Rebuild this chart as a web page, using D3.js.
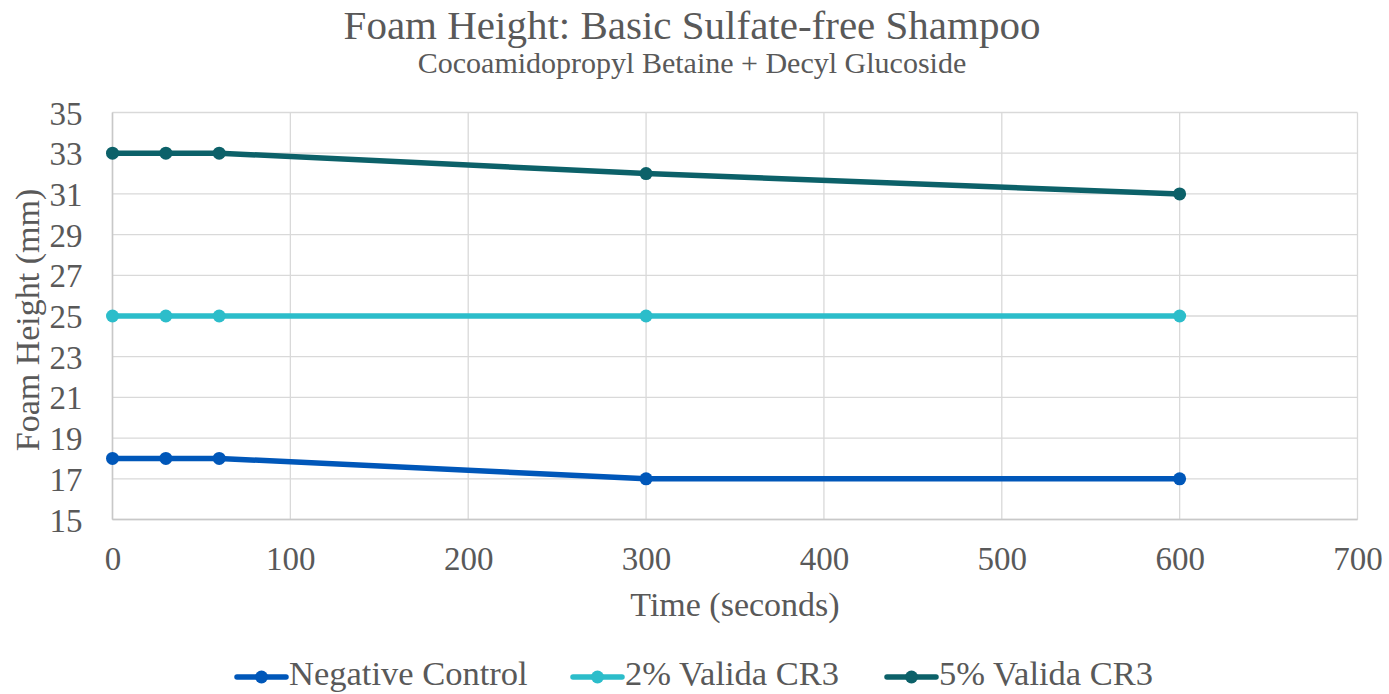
<!DOCTYPE html>
<html><head><meta charset="utf-8">
<script src="https://cdn.jsdelivr.net/npm/d3@7"></script>
<style>body{margin:0;background:#fff}svg{display:block}text{font-family:"Liberation Serif","DejaVu Serif",serif;fill:#595959}</style>
</head><body><svg id="c" width="1389" height="694"></svg>
<script>
const times = [0, 30, 60, 300, 600];
const seriesNames = ["Negative Control", "2% Valida CR3", "5% Valida CR3"];
const negativeControl = [18, 18, 18, 17, 17];
const valida2 = [25, 25, 25, 25, 25];
const valida5 = [33, 33, 33, 32, 31];
const seriesColors = ["#0057B9", "#2CBDCA", "#0C6169"];
const xTicks = [0, 100, 200, 300, 400, 500, 600, 700];
const yTicks = [15, 17, 19, 21, 23, 25, 27, 29, 31, 33, 35];
const titleText = "Foam Height: Basic Sulfate-free Shampoo";
const subtitleText = "Cocoamidopropyl Betaine + Decyl Glucoside";
const xTitle = "Time (seconds)";
const yTitle = "Foam Height (mm)";

const svg = d3.select("#c");
const L = 112.5, R = 1357.5, T = 112.5, B = 519.5;
const x = d3.scaleLinear().domain([0, 700]).range([L, R]);
const y = d3.scaleLinear().domain([15, 35]).range([B, T]);

// grid
svg.append("g").selectAll("line").data(yTicks).join("line")
  .attr("x1", L).attr("x2", R).attr("y1", d => y(d)).attr("y2", d => y(d))
  .attr("stroke", "#d9d9d9").attr("stroke-width", 1.3);
svg.append("g").selectAll("line").data(xTicks).join("line")
  .attr("y1", T).attr("y2", B).attr("x1", d => x(d)).attr("x2", d => x(d))
  .attr("stroke", "#d9d9d9").attr("stroke-width", 1.3);
// axes lines
svg.append("line").attr("x1", L).attr("x2", L).attr("y1", T).attr("y2", B).attr("stroke", "#c8c8c8").attr("stroke-width", 1.5);
svg.append("line").attr("x1", L).attr("x2", R).attr("y1", B).attr("y2", B).attr("stroke", "#c8c8c8").attr("stroke-width", 1.5);

// tick labels
const yAxis = d3.axisLeft(y).tickValues(yTicks).tickSize(0).tickPadding(30);
const gy = svg.append("g").attr("transform", `translate(${L},0)`).call(yAxis);
gy.select(".domain").remove();
gy.selectAll("text").attr("font-size", 33).attr("fill", "#595959").attr("font-family", "Liberation Serif").attr("dy", "0.35em");
const xAxis = d3.axisBottom(x).tickValues(xTicks).tickSize(0).tickPadding(27);
const gx = svg.append("g").attr("transform", `translate(0,${B})`).call(xAxis);
gx.select(".domain").remove();
gx.selectAll("text").attr("font-size", 33).attr("fill", "#595959").attr("font-family", "Liberation Serif");

// series
const data = [negativeControl, valida2, valida5];
const line = d3.line().x((d, i) => x(times[i])).y(d => y(d));
data.forEach((vals, k) => {
  svg.append("path").datum(vals).attr("d", line).attr("fill", "none")
    .attr("stroke", seriesColors[k]).attr("stroke-width", 5.5).attr("stroke-linejoin", "round").attr("stroke-linecap", "round");
  svg.append("g").selectAll("circle").data(vals).join("circle")
    .attr("cx", (d, i) => x(times[i])).attr("cy", d => y(d)).attr("r", 6.5)
    .attr("fill", seriesColors[k]);
});

// titles
svg.append("text").attr("x", 692).attr("y", 39).attr("text-anchor", "middle").attr("font-size", 41).text(titleText);
svg.append("text").attr("x", 692).attr("y", 73).attr("text-anchor", "middle").attr("font-size", 30).text(subtitleText);
svg.append("text").attr("x", 735).attr("y", 616).attr("text-anchor", "middle").attr("font-size", 34).text(xTitle);
svg.append("text").attr("transform", `translate(39,320) rotate(-90)`).attr("text-anchor", "middle").attr("font-size", 34).text(yTitle);

// legend
const legX = [237, 573, 887];
const legY = 677;
seriesNames.forEach((n, k) => {
  const g = svg.append("g");
  g.append("line").attr("x1", legX[k]).attr("x2", legX[k] + 49).attr("y1", legY).attr("y2", legY)
    .attr("stroke", seriesColors[k]).attr("stroke-width", 5.5).attr("stroke-linecap", "round");
  g.append("circle").attr("cx", legX[k] + 24.5).attr("cy", legY).attr("r", 6.5).attr("fill", seriesColors[k]);
  g.append("text").attr("x", legX[k] + 52).attr("y", 685).attr("font-size", 34.5).text(n);
});
</script></body></html>
